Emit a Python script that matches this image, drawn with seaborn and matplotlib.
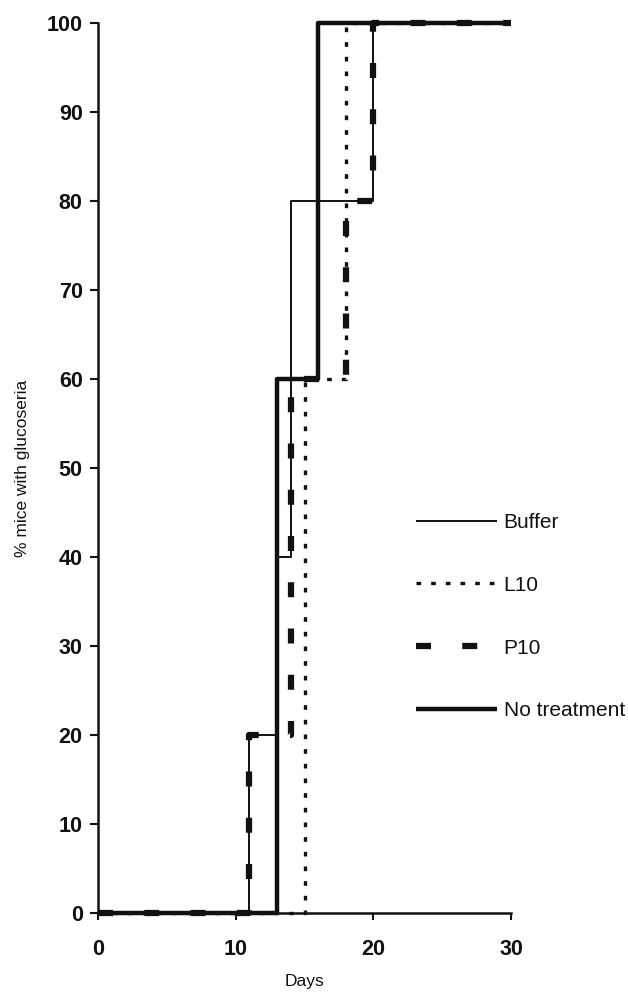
import matplotlib
matplotlib.use("Agg")
import matplotlib.pyplot as plt
import seaborn as sns

# ---- data ----
series_names = ["Buffer", "L10", "P10", "No treatment"]
days_buffer = [0, 11, 13, 14, 20, 30]
pct_buffer = [0, 20, 40, 80, 100, 100]
days_l10 = [0, 15, 18, 30]
pct_l10 = [0, 60, 100, 100]
days_p10 = [0, 11, 14, 18, 20, 30]
pct_p10 = [0, 20, 60, 80, 100, 100]
days_none = [0, 13, 16, 30]
pct_none = [0, 60, 100, 100]
x_ticks = [0, 10, 20, 30]
y_ticks = [0, 10, 20, 30, 40, 50, 60, 70, 80, 90, 100]

sns.set_theme(style="ticks")
plt.rcParams['font.family'] = ['Liberation Sans', 'DejaVu Sans']

fig = plt.figure(figsize=(6.28, 9.92), dpi=100)
ax = fig.add_axes([98 / 628, 79 / 992, 413 / 628, 890 / 992])

styles = [
    dict(lw=1.4, linestyle="-"),
    dict(lw=2.4, linestyle=(0, (1.4, 3.0))),
    dict(lw=4.5, linestyle=(0, (2.4, 5.0))),
    dict(lw=3.2, linestyle="-"),
]
data = [(days_buffer, pct_buffer), (days_l10, pct_l10),
        (days_p10, pct_p10), (days_none, pct_none)]

for (d, p), st, name in zip(data, styles, series_names):
    sns.lineplot(x=d, y=p, ax=ax, color="#111111", drawstyle="steps-post",
                 clip_on=False, legend=False, solid_capstyle="butt",
                 dash_capstyle="butt", **st)

ax.set_xlim(0, 30)
ax.set_ylim(0, 100)
ax.set_xticks(x_ticks)
ax.set_yticks(y_ticks)

for s in ["top", "right"]:
    ax.spines[s].set_visible(False)
for s in ["left", "bottom"]:
    ax.spines[s].set_linewidth(1.8)
    ax.spines[s].set_color("#111111")

ax.tick_params(axis="x", direction="out", length=5, width=1.5, pad=14,
               labelsize=15.5, colors="#111111")
ax.tick_params(axis="y", direction="out", length=6, width=1.5, pad=5,
               labelsize=15.5, colors="#111111")
for lab in ax.get_xticklabels() + ax.get_yticklabels():
    lab.set_fontweight("heavy")

ax.set_xlabel("Days", fontsize=12.5, labelpad=10, color="#111111")
ax.set_ylabel("% mice with glucoseria", fontsize=12.5, labelpad=12,
              color="#111111")

handles = ax.lines[:4]
leg = ax.legend(handles, series_names, loc="center left",
                bbox_to_anchor=(0.770, 0.333), frameon=False, fontsize=15,
                handlelength=3.9, handletextpad=0.3, labelspacing=2.1,
                borderpad=0, borderaxespad=0)
for t in leg.get_texts():
    t.set_color("#111111")

fig.savefig("out.png", dpi=100)
